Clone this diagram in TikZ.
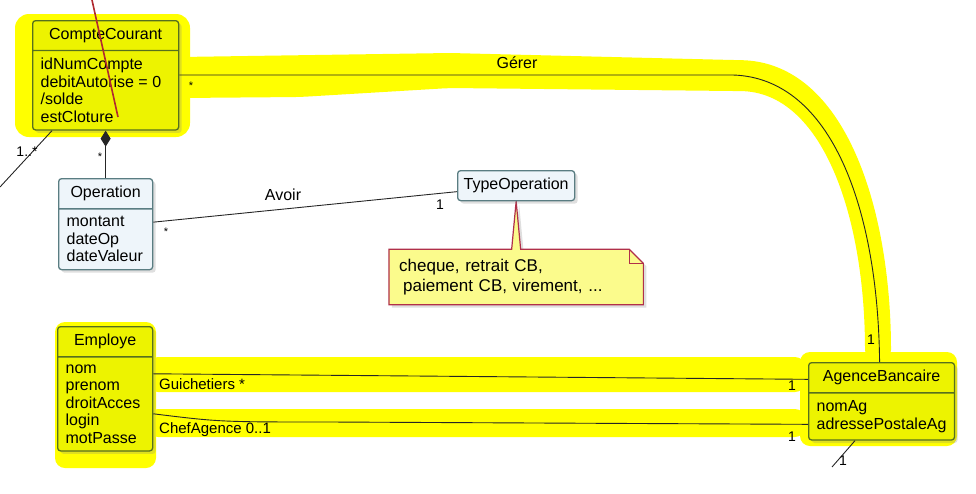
\documentclass[tikz,border=0pt]{standalone}
\usepackage{fontspec}
\setmainfont{Liberation Sans}
\usepackage{xcolor}
\usepackage{tikz}
\usetikzlibrary{arrows.meta,positioning,backgrounds,shapes.multipart,shadows}
\definecolor{umlfill}{HTML}{EEF5FA}
\definecolor{umlline}{HTML}{5A7D82}
\definecolor{markfill}{HTML}{EDF300}
\definecolor{markline}{HTML}{56701E}
\definecolor{marker}{HTML}{FFFF00}
\definecolor{notefill}{HTML}{FBFB8C}
\definecolor{noteline}{HTML}{B0304A}
\definecolor{penred}{HTML}{B02A30}

\begin{document}
\begin{tikzpicture}[x=1pt,y=-1pt]
  \tikzstyle{umlclass}=[rectangle split, rectangle split parts=2, rectangle split part align={center,left}, align=left, draw=umlline, fill=umlfill, line width=1.3pt, rounded corners=3pt, inner xsep=8pt, inner ysep=7pt, font=\fontsize{16}{17.5}\selectfont, anchor=north west, drop shadow={shadow xshift=3pt, shadow yshift=-3pt, opacity=0.25}]
  \tikzstyle{marked}=[fill=markfill, draw=markline]
  \tikzstyle{assoc}=[line width=0.9pt, color=black!85]
  \tikzstyle{mult}=[font=\fontsize{14}{16}\selectfont, inner sep=0pt]
  \tikzstyle{lbl}=[font=\fontsize{16}{18}\selectfont, inner sep=0pt]
  \tikzstyle{highlight}=[fill=marker]
  \tikzstyle{notebox}=[text width=234pt, inner xsep=10pt, minimum height=55pt, align=left, font=\fontsize{17}{19.5}\selectfont]

  \useasboundingbox (0,0) rectangle (976,493);

  % marker strokes
  \fill[highlight, rounded corners=14pt] (15,14) rectangle (190,137);
  \fill[highlight, rounded corners=10pt] (55,322) rectangle (156,468);
  \fill[highlight, rounded corners=10pt] (800,352) rectangle (957,446);
  \fill[highlight, rounded corners=8pt] (180,57) -- (450,53) -- (733,60) .. controls (846,62) and (891,210) .. (891,358) -- (865,358) .. controls (865,215) and (822,92) .. (733,91) -- (450,88) -- (300,97) -- (180,98) -- cycle;
  \fill[highlight, rounded corners=10pt] (148,357) rectangle (805,392);
  \fill[highlight, rounded corners=10pt] (148,409) rectangle (805,437);

  % classes
  \node[umlclass, marked, minimum width=146pt] (compte) at (32,20) {CompteCourant \nodepart{two} idNumCompte\\debitAutorise = 0\\/solde\\estCloture};
  \node[umlclass, minimum width=94pt] (op) at (58,178) {Operation \nodepart{two} montant\\dateOp\\dateValeur};
  \node[umlclass, marked, minimum width=95pt] (emp) at (57,326) {Employe \nodepart{two} nom\\prenom\\droitAcces\\login\\motPasse};
  \node[umlclass, marked, minimum width=145pt] (agence) at (808,362) {AgenceBancaire \nodepart{two} nomAg\\adressePostaleAg};
  \node[draw=umlline, fill=umlfill, line width=1.3pt, rounded corners=3pt, minimum width=117pt, minimum height=30pt, anchor=north west, font=\fontsize{16}{18}\selectfont, drop shadow={shadow xshift=3pt, shadow yshift=-3pt, opacity=0.25}] (typeop) at (457,170) {TypeOperation};
  \node[notebox, below=48pt of typeop] (note) {cheque, retrait CB,\\\hspace*{4pt}paiement CB, virement, ...};

  \coordinate (bend) at (733,75);
  \coordinate (ccout) at (0,187);
  \coordinate (agout) at (832,467);
  \coordinate (pentop) at (92,0);
  \coordinate (penend) at (118,117);

  % note outline
  \begin{scope}[on background layer]
    \draw[draw=noteline, fill=notefill, line width=1.2pt, drop shadow={shadow xshift=3pt, shadow yshift=-3pt, opacity=0.25}] (note.north west) -- ([xshift=-4.5pt]note.north) -- (typeop.south) -- ([xshift=4.5pt]note.north) -- ([xshift=-14pt]note.north east) -- ([yshift=-14pt]note.north east) -- (note.south east) -- (note.south west) -- cycle;
    \draw[noteline, line width=1.2pt] ([xshift=-14pt]note.north east) -- ([xshift=-14pt,yshift=-14pt]note.north east) -- ([yshift=-14pt]note.north east);
  \end{scope}

  % associations
  \draw[assoc] ([yshift=-55pt]compte.north east) -- (bend) .. controls (832,78) and (878,210) .. ([xshift=-2pt]agence.north);
  \draw[assoc, {Diamond[length=16pt,width=10pt]}-] (compte.south) -- (op.north);
  \draw[assoc] ([xshift=20pt]compte.south west) -- (ccout);
  \draw[assoc] ([yshift=2pt]op.east) -- ([yshift=-6pt]typeop.west);
  \draw[assoc] ([yshift=15pt]emp.east) -- ([yshift=22pt]agence.west);
  \draw[assoc] ([yshift=-25pt]emp.east) .. controls (220,422) .. (330,422) -- ([yshift=-23pt]agence.west);
  \draw[assoc] ([xshift=47pt]agence.south west) -- (agout);
  \draw[penred, line width=1.6pt] (pentop) -- (penend);

  % labels
  \node[lbl] (gerer) at (517,63) {Gérer};
  \node[mult, font=\fontsize{11}{12}\selectfont] (gerer-many) at (191,86) {*};
  \node[mult] (gerer-one) at (871,340) {1};
  \node[mult] (ext-many) at (27,152) {1..*};
  \node[mult, font=\fontsize{11}{12}\selectfont] (ops-many) at (100,157) {*};
  \node[lbl] (avoir) at (283,195) {Avoir};
  \node[mult, font=\fontsize{11}{12}\selectfont] (avoir-many) at (166,232) {*};
  \node[mult] (avoir-one) at (440,205) {1};
  \node[lbl, anchor=west, font=\fontsize{15}{17}\selectfont] (guichetiers) at (159,384) {Guichetiers *};
  \node[lbl, anchor=west, font=\fontsize{15}{17}\selectfont] (chef) at (159,430) {ChefAgence 0..1};
  \node[mult] (guich-one) at (792,386) {1};
  \node[mult] (chef-one) at (792,437) {1};
  \node[mult] (ext-one) at (843,461) {1};
\end{tikzpicture}
\end{document}
